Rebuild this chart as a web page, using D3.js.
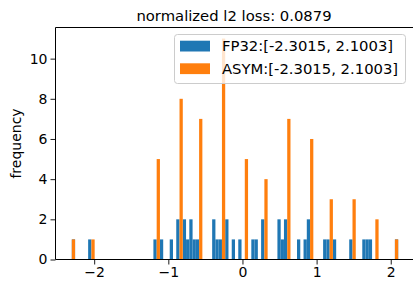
<!DOCTYPE html>
<html>
<head>
<meta charset="utf-8">
<script src="https://cdn.jsdelivr.net/npm/d3@7"></script>
<style>
  body { margin: 0; background: #fff; }
  svg { display: block; font-family: "DejaVu Sans", sans-serif; }
</style>
</head>
<body>
<div id="chart"></div>
<script>
// histogram range and bin count (shared by both series)
var binLo = -2.3015, binHi = 2.1003, binCount = 100;

// quantized (ASYM) levels and how many values sit on each
var asymLevels = [-2.3015, -2.0081, -1.1277, -0.8342, -0.5409, -0.2473, 0.0461,
                  0.3395, 0.6330, 0.9265, 1.2199, 1.5134, 1.8068, 2.1003];
var asymCounts = [1, 1, 5, 8, 7, 11, 5, 4, 7, 6, 3, 3, 2, 1];

// FP32 values
var fp32Values = [-2.3015, -2.0594, -1.1790, -1.0910, -0.9589, -0.8709, -0.8709,
  -0.7828, -0.7828, -0.7388, -0.6948, -0.6948, -0.6508, -0.6068,
  -0.3867, -0.3867, -0.3427, -0.2987, -0.2106, -0.2106, -0.1226, -0.0345,
  0.1416, 0.1856, 0.2736, 0.2736, 0.4937, 0.4937, 0.5378, 0.5818, 0.5818,
  0.7579, 0.8459, 0.8898, 0.8898, 1.1100, 1.1540, 1.2420, 1.4621,
  1.6382, 1.6822, 1.7262, 2.1003];

var xTicks = [-2, -1, 0, 1, 2];
var yTicks = [0, 2, 4, 6, 8, 10];
var titleText = "normalized l2 loss: 0.0879";
var legendLabels = ["FP32:[-2.3015, 2.1003]", "ASYM:[-2.3015, 2.1003]"];
var colors = ["#1f77b4", "#ff7f0e"];

var W = 413, H = 284;
var plot = { left: 55.5, right: 414.5, top: 27.5, bottom: 259.5 };

var svg = d3.select("#chart")
    .append("svg")
    .attr("width", W)
    .attr("height", H);

var x = d3.scaleLinear()
    .domain([-2.5216, 2.3204])
    .range([plot.left, plot.right]);

var y = d3.scaleLinear()
    .domain([0, 11.55])
    .range([plot.bottom, plot.top]);

// bins
var step = (binHi - binLo) / binCount;
var thresholds = d3.range(1, binCount).map(function (i) { return binLo + i * step; });
var binner = d3.bin().domain([binLo, binHi]).thresholds(thresholds);

var asymValues = [];
asymLevels.forEach(function (v, i) {
    for (var k = 0; k < asymCounts[i]; k++) asymValues.push(v);
});

var series = [binner(fp32Values), binner(asymValues)];

series.forEach(function (bins, s) {
    svg.append("g")
        .selectAll("rect")
        .data(bins.filter(function (b) { return b.length > 0; }))
        .enter().append("rect")
        .attr("x", function (d) { return x(d.x0); })
        .attr("width", function (d) { return x(d.x1) - x(d.x0); })
        .attr("y", function (d) { return y(d.length); })
        .attr("height", function (d) { return y(0) - y(d.length); })
        .attr("fill", colors[s]);
});

// axes
var xAxis = d3.axisBottom(x).tickValues(xTicks).tickFormat(d3.format("d"))
    .tickSize(5).tickPadding(3);
var gx = svg.append("g")
    .attr("transform", "translate(0," + plot.bottom + ")")
    .call(xAxis);
gx.select(".domain").remove();

var yAxis = d3.axisLeft(y).tickValues(yTicks).tickSize(5).tickPadding(3);
var gy = svg.append("g")
    .attr("transform", "translate(" + plot.left + ",0)")
    .call(yAxis);
gy.select(".domain").remove();

svg.selectAll(".tick text")
    .attr("font-family", "DejaVu Sans")
    .attr("font-size", 14)
    .attr("fill", "#000");
svg.selectAll(".tick line").attr("stroke", "#000").attr("stroke-width", 0.9);

// spines
svg.append("line").attr("x1", plot.left).attr("x2", plot.left)
    .attr("y1", plot.top).attr("y2", plot.bottom)
    .attr("stroke", "#000").attr("stroke-width", 1);
svg.append("line").attr("x1", plot.left).attr("x2", plot.right)
    .attr("y1", plot.top).attr("y2", plot.top)
    .attr("stroke", "#000").attr("stroke-width", 1);
svg.append("line").attr("x1", plot.left).attr("x2", plot.right)
    .attr("y1", plot.bottom).attr("y2", plot.bottom)
    .attr("stroke", "#000").attr("stroke-width", 1);

// title and y label
svg.append("text")
    .attr("x", 234)
    .attr("y", 21)
    .attr("text-anchor", "middle")
    .attr("font-size", 14.8)
    .text(titleText);

svg.append("text")
    .attr("transform", "translate(21," + ((plot.top + plot.bottom) / 2) + ") rotate(-90)")
    .attr("text-anchor", "middle")
    .attr("font-size", 14)
    .text("frequency");

// legend
var legend = svg.append("g");
legend.append("rect")
    .attr("x", 174.5).attr("y", 34.5)
    .attr("width", 231).attr("height", 49)
    .attr("rx", 3)
    .attr("fill", "#fff").attr("fill-opacity", 0.8)
    .attr("stroke", "#cccccc").attr("stroke-width", 1);

legendLabels.forEach(function (label, i) {
    var yy = 40.7 + i * 22.6;
    legend.append("rect")
        .attr("x", 180).attr("y", yy)
        .attr("width", 30).attr("height", 10.8)
        .attr("fill", colors[i]);
    legend.append("text")
        .attr("x", 222).attr("y", yy + 10.6)
        .attr("font-size", 14.8)
        .text(label);
});
</script>
</body>
</html>
